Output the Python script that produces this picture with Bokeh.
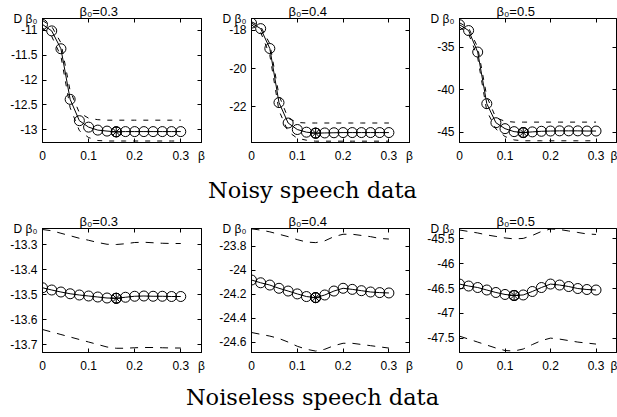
from bokeh.plotting import figure
from bokeh.layouts import column, row
from bokeh.models import Range1d, FixedTicker, PrintfTickFormatter, LinearAxis, Label
from bokeh.embed import file_html
from bokeh.resources import INLINE

# ---------------- data ----------------
beta = [0.00, 0.02, 0.04, 0.06, 0.08, 0.10, 0.12, 0.14, 0.16, 0.18, 0.20, 0.22, 0.24, 0.26, 0.28, 0.30]
x_ticks = [0, 0.1, 0.2, 0.3]
beta0_labels = ["0.3", "0.4", "0.5"]

# Noisy speech data
noisy_03_mid = [-10.88, -11.01, -11.37, -12.39, -12.82, -12.95, -13.01, -13.03, -13.045, -13.04, -13.04, -13.04, -13.04, -13.04, -13.04, -13.04]
noisy_03_up = [-10.80, -10.92, -11.25, -12.22, -12.66, -12.77, -12.80, -12.81, -12.81, -12.81, -12.81, -12.81, -12.81, -12.81, -12.81, -12.81]
noisy_03_lo = [-10.95, -11.12, -11.52, -12.56, -13.02, -13.16, -13.22, -13.23, -13.23, -13.23, -13.23, -13.23, -13.23, -13.23, -13.23, -13.23]
noisy_03_ticks = [-13, -12.5, -12, -11.5, -11]

noisy_04_mid = [-17.62, -17.91, -18.95, -21.78, -22.85, -23.19, -23.33, -23.38, -23.37, -23.36, -23.35, -23.35, -23.35, -23.35, -23.35, -23.35]
noisy_04_up = [-17.55, -17.80, -18.70, -21.40, -22.60, -22.82, -22.85, -22.85, -22.85, -22.85, -22.85, -22.85, -22.85, -22.85, -22.85, -22.85]
noisy_04_lo = [-17.70, -18.10, -19.30, -22.20, -23.30, -23.65, -23.75, -23.80, -23.80, -23.80, -23.80, -23.80, -23.80, -23.80, -23.80, -23.80]
noisy_04_ticks = [-22, -20, -18]

noisy_05_mid = [-32.33, -33.02, -35.55, -41.63, -43.87, -44.57, -44.92, -45.03, -44.95, -44.88, -44.85, -44.83, -44.83, -44.83, -44.85, -44.85]
noisy_05_up = [-32.10, -32.70, -35.00, -40.80, -43.30, -43.70, -43.80, -43.80, -43.80, -43.80, -43.80, -43.80, -43.80, -43.80, -43.80, -43.80]
noisy_05_lo = [-32.60, -33.40, -36.20, -42.50, -44.60, -45.50, -45.90, -46.00, -46.00, -46.00, -46.00, -46.00, -46.00, -46.00, -46.00, -46.00]
noisy_05_ticks = [-45, -40, -35]

# Noiseless speech data
clean_03_mid = [-13.473, -13.482, -13.490, -13.497, -13.502, -13.506, -13.510, -13.514, -13.515, -13.511, -13.507, -13.506, -13.507, -13.507, -13.508, -13.508]
clean_03_up = [-13.240, -13.245, -13.255, -13.265, -13.275, -13.283, -13.292, -13.299, -13.300, -13.297, -13.292, -13.291, -13.293, -13.295, -13.296, -13.296]
clean_03_lo = [-13.640, -13.650, -13.660, -13.670, -13.680, -13.690, -13.700, -13.710, -13.715, -13.715, -13.713, -13.712, -13.712, -13.713, -13.714, -13.714]
clean_03_ticks = [-13.7, -13.6, -13.5, -13.4, -13.3]

clean_04_mid = [-24.082, -24.105, -24.124, -24.151, -24.174, -24.198, -24.220, -24.229, -24.207, -24.174, -24.151, -24.160, -24.171, -24.182, -24.187, -24.190]
clean_04_up = [-23.655, -23.665, -23.680, -23.700, -23.720, -23.745, -23.765, -23.770, -23.755, -23.720, -23.700, -23.700, -23.710, -23.720, -23.735, -23.740]
clean_04_lo = [-24.520, -24.535, -24.550, -24.570, -24.600, -24.635, -24.660, -24.675, -24.660, -24.630, -24.610, -24.610, -24.620, -24.630, -24.640, -24.650]
clean_04_ticks = [-24.6, -24.4, -24.2, -24, -23.8]

clean_05_mid = [-46.41, -46.45, -46.48, -46.53, -46.58, -46.62, -46.64, -46.63, -46.56, -46.48, -46.41, -46.43, -46.46, -46.50, -46.52, -46.53]
clean_05_up = [-45.32, -45.35, -45.38, -45.42, -45.45, -45.48, -45.50, -45.49, -45.43, -45.35, -45.30, -45.31, -45.34, -45.37, -45.40, -45.41]
clean_05_lo = [-47.46, -47.52, -47.58, -47.64, -47.70, -47.75, -47.76, -47.72, -47.63, -47.55, -47.50, -47.52, -47.55, -47.58, -47.60, -47.62]
clean_05_ticks = [-47.5, -47, -46.5, -46, -45.5]

x_limits = (0, 0.345)
y_limits = [(-13.26, -10.76), (-23.87, -17.38), (-46.2, -31.6),
            (-13.732, -13.236), (-24.687, -23.652), (-47.79, -45.29)]

x_name = "β"
y_name = "D β₀"
captions = ["Noisy speech data", "Noiseless speech data"]

FONT = "Liberation Sans"


def style_axis(ax, ticks, standoff, hidden=False, overrides=None):
    ax.ticker = FixedTicker(ticks=ticks)
    ax.formatter = PrintfTickFormatter(format="%g")
    if overrides:
        ax.major_label_overrides = overrides
    ax.major_tick_in = 4
    ax.major_tick_out = 0
    ax.minor_tick_line_color = None
    ax.axis_line_color = "black"
    ax.major_tick_line_color = "black"
    ax.major_label_text_font = FONT
    if hidden:
        ax.major_label_text_font_size = "0px"
        ax.major_label_text_color = None
        ax.major_label_standoff = 0
    else:
        ax.major_label_text_color = "black"
        ax.major_label_text_font_size = "12px"
        ax.major_label_standoff = standoff


def panel(mid, up, lo, yr, yticks, b0, width, b_left, b_right, height, b_top, dash):
    p = figure(width=width, height=height, x_range=Range1d(*x_limits), y_range=Range1d(*yr),
               output_backend="svg", toolbar_location=None,
               min_border_left=b_left, min_border_right=b_right,
               min_border_top=b_top, min_border_bottom=22,
               title="β₀=" + b0)
    p.title.text_font = FONT
    p.title.text_font_size = "13px"
    p.title.text_font_style = "normal"
    p.title.text_color = "black"
    p.title.align = "left"
    p.title.offset = 37
    p.title.standoff = 0
    p.grid.visible = False
    p.outline_line_color = "black"
    p.outline_line_width = 1
    xr_end = x_limits[1]
    yr_top = yr[1]
    style_axis(p.xaxis[0], x_ticks + [xr_end], 6, overrides={xr_end: x_name})
    style_axis(p.yaxis[0], yticks + [yr_top], 5, overrides={yr_top: y_name})
    top = LinearAxis()
    style_axis(top, x_ticks, 0, hidden=True)
    p.add_layout(top, "above")
    right = LinearAxis()
    style_axis(right, yticks, 0, hidden=True)
    p.add_layout(right, "right")

    p.line(beta, up, line_color="black", line_width=1, line_dash=dash)
    p.line(beta, lo, line_color="black", line_width=1, line_dash=dash)
    p.line(beta, mid, line_color="black", line_width=1)
    p.scatter(beta, mid, marker="circle", size=10, fill_color=None, line_color="black", line_width=1)
    i = min(range(len(mid)), key=lambda k: mid[k])
    p.scatter([beta[i]], [mid[i]], marker="circle_x", size=10, fill_color=None, line_color="black")
    p.scatter([beta[i]], [mid[i]], marker="circle_cross", size=10, fill_color=None, line_color="black")
    return p


def caption(text, height, baseline):
    c = figure(width=617, height=height, x_range=Range1d(0, 617), y_range=Range1d(height, 0),
               x_axis_type=None, y_axis_type=None, output_backend="svg", toolbar_location=None,
               min_border=0)
    c.outline_line_color = None
    c.add_layout(Label(x=312, y=baseline, text=text, text_align="center", text_baseline="alphabetic",
                       text_font="DejaVu Serif", text_font_size="22.5px", text_color="black"))
    return c


widths = [209, 209, 199]
lefts = [42, 42, 41]
rights = [8, 9, 1]

top_sets = [(noisy_03_mid, noisy_03_up, noisy_03_lo, noisy_03_ticks),
            (noisy_04_mid, noisy_04_up, noisy_04_lo, noisy_04_ticks),
            (noisy_05_mid, noisy_05_up, noisy_05_lo, noisy_05_ticks)]
bot_sets = [(clean_03_mid, clean_03_up, clean_03_lo, clean_03_ticks),
            (clean_04_mid, clean_04_up, clean_04_lo, clean_04_ticks),
            (clean_05_mid, clean_05_up, clean_05_lo, clean_05_ticks)]

top_row = []
for k, (m, u, l, t) in enumerate(top_sets):
    top_row.append(panel(m, u, l, y_limits[k], t, beta0_labels[k], widths[k], lefts[k], rights[k],
                         165, 18, "5 7"))
bot_row = []
for k, (m, u, l, t) in enumerate(bot_sets):
    bot_row.append(panel(m, u, l, y_limits[3 + k], t, beta0_labels[k], widths[k], lefts[k], rights[k],
                         170, 23, "8 7"))

layout = column(row(*top_row, spacing=0), caption(captions[0], 40, 24),
                row(*bot_row, spacing=0), caption(captions[1], 42, 21), spacing=0)

open("out.html", "w").write(file_html(layout, INLINE))
